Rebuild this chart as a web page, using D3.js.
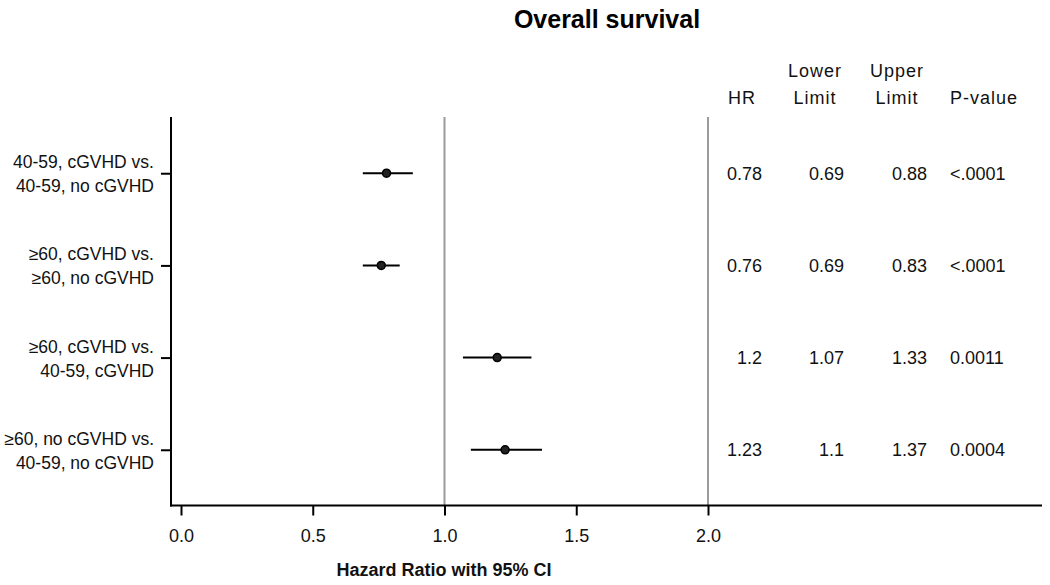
<!DOCTYPE html>
<html>
<head>
<meta charset="utf-8">
<script src="https://cdn.jsdelivr.net/npm/d3@7"></script>
<style>
  html, body { margin: 0; padding: 0; background: #fff; }
  svg { display: block; font-family: "Liberation Sans", Arial, sans-serif; }
</style>
</head>
<body>
<svg id="chart" width="1050" height="585"></svg>
<script>
const labelLine1 = ["40-59, cGVHD vs.", "\u226560, cGVHD vs.", "\u226560, cGVHD vs.", "\u226560, no cGVHD vs."];
const labelLine2 = ["40-59, no cGVHD", "\u226560, no cGVHD", "40-59, cGVHD", "40-59, no cGVHD"];
const hr = [0.78, 0.76, 1.2, 1.23];
const lower = [0.69, 0.69, 1.07, 1.1];
const upper = [0.88, 0.83, 1.33, 1.37];
const pValues = ["<.0001", "<.0001", "0.0011", "0.0004"];
const xTicks = [0, 0.5, 1.0, 1.5, 2.0];
const refLines = [1.0, 2.0];

const svg = d3.select("#chart");
const rows = d3.range(hr.length);

const x = d3.scaleLinear().domain([0, 2]).range([181, 708]);
const y = d3.scalePoint().domain(rows).range([117, 506]).padding(0.61);

const axisLeftX = 171, axisBottomY = 505.5, plotTop = 117, axisRightX = 1042;

// Title
svg.append("text").attr("x", 607).attr("y", 28).attr("text-anchor", "middle")
  .attr("font-size", 25).attr("font-weight", "bold").text("Overall survival");

// reference lines
svg.selectAll("line.ref").data(refLines).enter().append("line")
  .attr("class", "ref")
  .attr("x1", d => x(d)).attr("x2", d => x(d))
  .attr("y1", plotTop).attr("y2", axisBottomY)
  .attr("stroke", "#9a9a9a").attr("stroke-width", 2);

// x axis
const xAxis = d3.axisBottom(x).tickValues(xTicks).tickFormat(d3.format(".1f"))
  .tickSize(10).tickPadding(14);
const gx = svg.append("g").attr("transform", `translate(0,${axisBottomY})`).call(xAxis);
gx.select(".domain").remove();
gx.selectAll(".tick line").attr("stroke", "#000").attr("stroke-width", 2);
gx.selectAll(".tick text").attr("font-size", 18).attr("fill", "#111")
  .attr("font-family", "Liberation Sans, Arial, sans-serif");
svg.append("line").attr("x1", axisLeftX - 1).attr("x2", axisRightX)
  .attr("y1", axisBottomY).attr("y2", axisBottomY)
  .attr("stroke", "#000").attr("stroke-width", 2);

// y axis
const yAxis = d3.axisLeft(y).tickSize(10).tickFormat("");
const gy = svg.append("g").attr("transform", `translate(${axisLeftX},0)`).call(yAxis);
gy.select(".domain").remove();
gy.selectAll(".tick line").attr("stroke", "#000").attr("stroke-width", 2);
svg.append("line").attr("x1", axisLeftX).attr("x2", axisLeftX)
  .attr("y1", plotTop).attr("y2", axisBottomY + 1)
  .attr("stroke", "#000").attr("stroke-width", 2);

// y labels
const lab = svg.append("g").attr("font-size", 17.5).attr("fill", "#111").attr("text-anchor", "end");
lab.selectAll("text.l1").data(rows).enter().append("text").attr("class", "l1")
  .attr("x", 154).attr("y", d => y(d) - 5).text(d => labelLine1[d]);
lab.selectAll("text.l2").data(rows).enter().append("text").attr("class", "l2")
  .attr("x", 154).attr("y", d => y(d) + 19).text(d => labelLine2[d]);

// CI lines and points
svg.selectAll("line.ci").data(rows).enter().append("line").attr("class", "ci")
  .attr("x1", d => x(lower[d])).attr("x2", d => x(upper[d]))
  .attr("y1", d => y(d)).attr("y2", d => y(d))
  .attr("stroke", "#000").attr("stroke-width", 2);
svg.selectAll("circle.pt").data(rows).enter().append("circle").attr("class", "pt")
  .attr("cx", d => x(hr[d])).attr("cy", d => y(d)).attr("r", 4)
  .attr("fill", "#222").attr("stroke", "#000").attr("stroke-width", 1.5);

// table headers
const hdr = svg.append("g").attr("font-size", 18).attr("fill", "#111")
  .attr("text-anchor", "middle").attr("letter-spacing", 1);
const headers = [
  { x: 742, lines: ["", "HR"] },
  { x: 815, lines: ["Lower", "Limit"] },
  { x: 897, lines: ["Upper", "Limit"] },
  { x: 984, lines: ["", "P-value"] }
];
headers.forEach(h => {
  hdr.append("text").attr("x", h.x).attr("y", 77).text(h.lines[0]);
  hdr.append("text").attr("x", h.x).attr("y", 104).text(h.lines[1]);
});

// table values
const tbl = svg.append("g").attr("font-size", 18).attr("fill", "#111");
const cols = [
  { vals: hr.map(String), x: 762, anchor: "end" },
  { vals: lower.map(String), x: 844, anchor: "end" },
  { vals: upper.map(String), x: 927, anchor: "end" },
  { vals: pValues, x: 950, anchor: "start" }
];
cols.forEach(c => {
  tbl.selectAll(null).data(rows).enter().append("text")
    .attr("x", c.x).attr("y", d => y(d) + 6.5)
    .attr("text-anchor", c.anchor).text(d => c.vals[d]);
});

// x axis title
svg.append("text").attr("x", 444).attr("y", 576).attr("text-anchor", "middle")
  .attr("font-size", 18).attr("font-weight", "bold").attr("fill", "#111")
  .text("Hazard Ratio with 95% CI");
</script>
</body>
</html>
